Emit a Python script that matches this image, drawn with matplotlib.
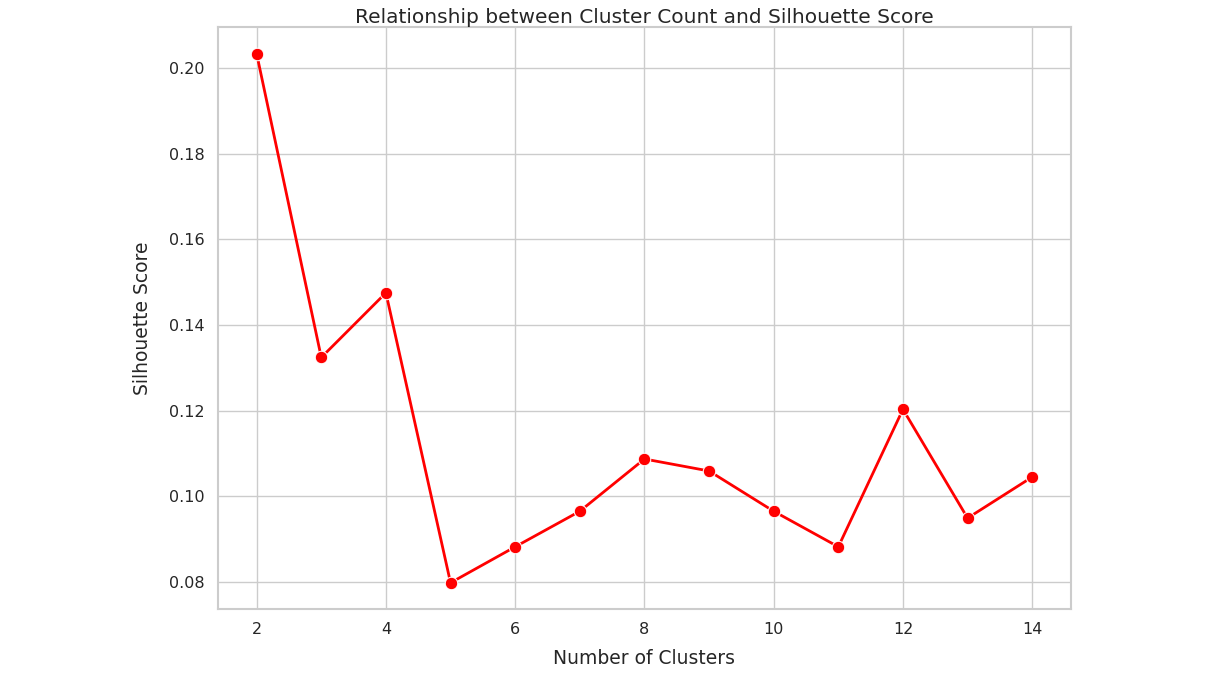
import matplotlib
matplotlib.use('Agg')
import matplotlib.pyplot as plt
import seaborn as sns

# Silhouette scores
clusters = [2, 3, 4, 5, 6, 7, 8, 9, 10, 11, 12, 13, 14]
scores = [0.2033, 0.1324, 0.1475, 0.0798, 0.0882, 0.0965, 0.1087, 0.1059,
          0.0965, 0.0882, 0.1203, 0.0949, 0.1045]

sns.set_theme(style='whitegrid')

fig = plt.figure(figsize=(12.24, 6.83), dpi=100)
ax = fig.add_axes([0.178, 0.108, 0.697, 0.852])
sns.lineplot(x=clusters, y=scores, marker='o', color='red', linewidth=2,
             markersize=9, markeredgecolor='white', ax=ax)
ax.set_title('Relationship between Cluster Count and Silhouette Score', fontsize=14.5, pad=3)
ax.set_xlabel('Number of Clusters', fontsize=13.5, labelpad=8)
ax.set_ylabel('Silhouette Score', fontsize=13.5, labelpad=12)
ax.tick_params(labelsize=11.5)
ax.set_xticks([2, 4, 6, 8, 10, 12, 14])
ax.set_yticks([0.08, 0.10, 0.12, 0.14, 0.16, 0.18, 0.20])
for s in ax.spines.values():
    s.set_color('#cccccc')
    s.set_linewidth(1.5)

fig.savefig('out.png', dpi=100)
